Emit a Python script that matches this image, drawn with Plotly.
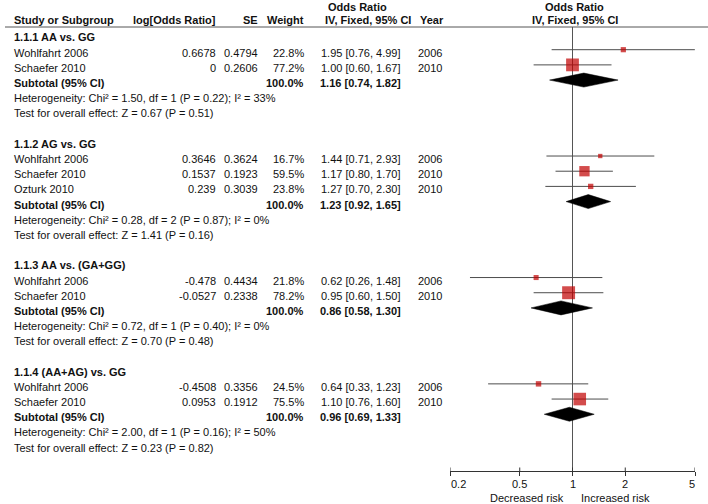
import math
import plotly.graph_objects as go

# ---------------- data ----------------
group_titles = ["1.1.1 AA vs. GG", "1.1.2 AG vs. GG", "1.1.3 AA vs. (GA+GG)", "1.1.4 (AA+AG) vs. GG"]
study_group = [0, 0, 1, 1, 1, 2, 2, 3, 3]
study_names = ["Wohlfahrt 2006", "Schaefer 2010", "Wohlfahrt 2006", "Schaefer 2010", "Ozturk 2010",
               "Wohlfahrt 2006", "Schaefer 2010", "Wohlfahrt 2006", "Schaefer 2010"]
log_or = [0.6678, 0, 0.3646, 0.1537, 0.239, -0.478, -0.0527, -0.4508, 0.0953]
se = [0.4794, 0.2606, 0.3624, 0.1923, 0.3039, 0.4434, 0.2338, 0.3356, 0.1912]
weight = [22.8, 77.2, 16.7, 59.5, 23.8, 21.8, 78.2, 24.5, 75.5]
or_est = [1.95, 1.00, 1.44, 1.17, 1.27, 0.62, 0.95, 0.64, 1.10]
or_lo = [0.76, 0.60, 0.71, 0.80, 0.70, 0.26, 0.60, 0.33, 0.76]
or_hi = [4.99, 1.67, 2.93, 1.70, 2.30, 1.48, 1.50, 1.23, 1.60]
year = [2006, 2010, 2006, 2010, 2010, 2006, 2010, 2006, 2010]

sub_est = [1.16, 1.23, 0.86, 0.96]
sub_lo = [0.74, 0.92, 0.58, 0.69]
sub_hi = [1.82, 1.65, 1.30, 1.33]
het_chi = ["1.50", "0.28", "0.72", "2.00"]
het_df = [1, 2, 1, 1]
het_p = ["0.22", "0.87", "0.40", "0.16"]
het_i2 = [33, 0, 0, 50]
z_val = ["0.67", "1.41", "0.70", "0.23"]
z_p = ["0.51", "0.16", "0.48", "0.82"]

tick_vals = [0.2, 0.5, 1, 2, 5]
tick_text = ["0.2", "0.5", "1", "2", "5"]
favours = ["Decreased risk", "Increased risk"]

# ---------------- layout constants ----------------
W, H = 708, 504
FONT = "Liberation Sans, Arial, sans-serif"
TXT = "#111111"
RED = "#c00000"
AX_BOTTOM = 471
ROW0 = 37.5
ROW_H = 15.19
MARK_OFF = -3

def px(x):
    return x / W

def py(y):
    return 1 - y / H

annotations = []
shapes = []

def text(x, y, s, anchor="left", bold=False, size=11):
    annotations.append(dict(x=px(x), y=py(y), xref="paper", yref="paper",
                            text=("<b>%s</b>" % s) if bold else s,
                            showarrow=False, xanchor=anchor, yanchor="middle",
                            font=dict(family=FONT, size=size, color=TXT)))

# headers
text(358, 7, "Odds Ratio", "center", True)
text(574, 7, "Odds Ratio", "center", True)
hy = 20.5
text(12, hy, "Study or Subgroup", "left", True)
text(218, hy, "log[Odds Ratio]", "right", True)
text(260, hy, "SE", "right", True)
text(306, hy, "Weight", "right", True)
text(413, hy, "IV, Fixed, 95% CI", "right", True)
text(418, hy, "Year", "left", True)
text(575, hy, "IV, Fixed, 95% CI", "center", True)

shapes.append(dict(type="line", xref="paper", yref="y", x0=px(5), x1=1, y0=27, y1=27,
                   line=dict(color="#555555", width=1)))

ci_x, ci_y = [], []
sq_x, sq_y, sq_s = [], [], []
diamonds = []

row = 0
for g, title in enumerate(group_titles):
    text(12, ROW0 + row * ROW_H, title, "left", True)
    row += 1
    for k in [i for i, sg in enumerate(study_group) if sg == g]:
        y = ROW0 + row * ROW_H
        text(12, y, study_names[k])
        text(218, y, f"{log_or[k]:g}", "right")
        text(260, y, f"{se[k]:.4f}", "right")
        text(306, y, f"{weight[k]:.1f}%", "right")
        text(403, y, f"{or_est[k]:.2f} [{or_lo[k]:.2f}, {or_hi[k]:.2f}]", "right")
        text(416, y, str(year[k]), "left")
        my = y + MARK_OFF
        ci_x += [or_lo[k], or_hi[k], None]
        ci_y += [my, my, None]
        sq_x.append(or_est[k]); sq_y.append(my); sq_s.append(2 + 0.14 * weight[k])
        row += 1
    y = ROW0 + row * ROW_H
    text(12, y, "Subtotal (95% CI)", "left", True)
    text(306, y, "100.0%", "right", True)
    text(403, y, f"{sub_est[g]:.2f} [{sub_lo[g]:.2f}, {sub_hi[g]:.2f}]", "right", True)
    diamonds.append((sub_lo[g], sub_est[g], sub_hi[g], y + MARK_OFF))
    row += 1
    y = ROW0 + row * ROW_H
    text(12, y, f"Heterogeneity: Chi² = {het_chi[g]}, df = {het_df[g]} (P = {het_p[g]}); I² = {het_i2[g]}%")
    row += 1
    y = ROW0 + row * ROW_H
    text(12, y, f"Test for overall effect: Z = {z_val[g]} (P = {z_p[g]})")
    row += 2

fig = go.Figure()

# vertical line of no effect
shapes.append(dict(type="line", xref="x", yref="y", x0=1, x1=1, y0=27, y1=AX_BOTTOM,
                   line=dict(color="#555555", width=1), layer="below"))

fig.add_trace(go.Scatter(x=ci_x, y=ci_y, mode="lines", line=dict(color="#4d4d4d", width=1),
                         hoverinfo="skip", showlegend=False))
fig.add_trace(go.Scatter(x=sq_x, y=sq_y, mode="markers",
                         marker=dict(symbol="square", size=sq_s, color=RED, line=dict(width=0)),
                         showlegend=False))
for lo, est, hi, y in diamonds:
    fig.add_trace(go.Scatter(x=[lo, est, hi, est, lo], y=[y, y - 7, y, y + 7, y], mode="lines",
                             fill="toself", fillcolor="black", line=dict(color="black", width=0.5),
                             hoverinfo="skip", showlegend=False))

# upward tick halves
for tv in tick_vals:
    shapes.append(dict(type="line", xref="x", yref="y", x0=tv, x1=tv, y0=AX_BOTTOM - 3.5, y1=AX_BOTTOM,
                       line=dict(color="#333333", width=1)))
# tick labels (annotation x on a log axis is given in log10 units)
for i, (tv, tt) in enumerate(zip(tick_vals, tick_text)):
    anchor = "left" if i == 0 else ("right" if i == len(tick_vals) - 1 else "center")
    xoff = -1 if i == 0 else (2 if i == len(tick_vals) - 1 else 0)
    annotations.append(dict(x=math.log10(tv), y=py(484), xref="x", yref="paper", text=tt,
                            showarrow=False, xanchor=anchor, yanchor="middle", xshift=xoff,
                            font=dict(family=FONT, size=11, color=TXT)))
annotations.append(dict(x=0, y=py(498), xref="x", yref="paper", text=favours[0], showarrow=False,
                        xanchor="right", yanchor="middle", xshift=-7,
                        font=dict(family=FONT, size=11, color=TXT)))
annotations.append(dict(x=0, y=py(498), xref="x", yref="paper", text=favours[1], showarrow=False,
                        xanchor="left", yanchor="middle", xshift=6,
                        font=dict(family=FONT, size=11, color=TXT)))

fig.update_layout(
    width=W, height=H,
    margin=dict(l=0, r=0, t=0, b=0),
    paper_bgcolor="white", plot_bgcolor="white",
    showlegend=False,
    xaxis=dict(type="log", domain=[450 / W, 695 / W], range=[math.log10(0.2), math.log10(5)],
               showgrid=False, zeroline=False, showline=True, linecolor="#333333", linewidth=1,
               tickvals=tick_vals, ticks="outside", ticklen=4, tickcolor="#333333",
               showticklabels=False, fixedrange=True),
    yaxis=dict(domain=[(H - AX_BOTTOM) / H, 1], range=[AX_BOTTOM, 0], showgrid=False,
               zeroline=False, showline=False, showticklabels=False, ticks="", fixedrange=True),
    annotations=annotations,
    shapes=shapes,
)

fig.write_html("out.html", config={"displayModeBar": False},
               post_script="document.body.style.margin='0';document.body.style.overflow='hidden';")
